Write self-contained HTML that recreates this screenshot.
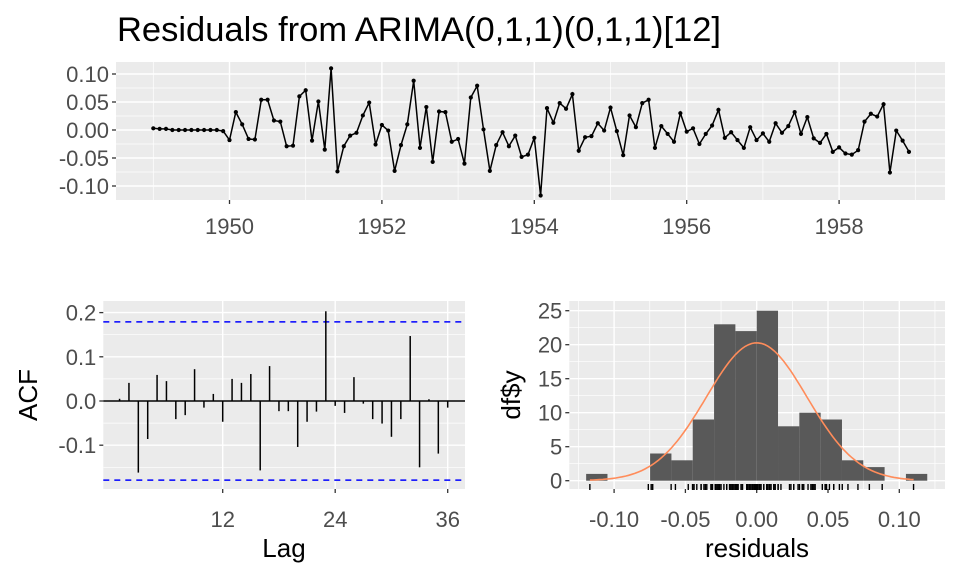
<!DOCTYPE html>
<html><head><meta charset="utf-8"><style>
html,body{margin:0;padding:0;background:#fff;}
svg{display:block;font-family:"Liberation Sans",Arial,sans-serif;}
.tk{fill:#4d4d4d;font-size:22px;}
.at{fill:#000;font-size:26px;}
</style></head><body>
<svg id="svg" width="960" height="576" viewBox="0 0 960 576" xmlns="http://www.w3.org/2000/svg">
<text x="117" y="41" font-size="34.5" fill="#000">Residuals from ARIMA(0,1,1)(0,1,1)[12]</text>
<g id="topPanel"></g>
<g id="acfPanel"></g>
<g id="histPanel"></g>
</svg>
<script>
const residuals = [0.003,0.002,0.002,0.000,0.000,0.000,0.000,0.000,0.000,0.000,0.000,-0.002,
-0.018,0.032,0.010,-0.016,-0.017,0.054,0.054,0.017,0.015,-0.029,-0.028,0.060,
0.071,-0.019,0.051,-0.035,0.110,-0.074,-0.029,-0.010,-0.005,0.026,0.049,-0.026,
0.009,-0.001,-0.073,-0.027,0.010,0.088,-0.032,0.041,-0.057,0.033,0.032,-0.021,
-0.016,-0.060,0.058,0.079,0.001,-0.073,-0.027,-0.004,-0.029,-0.010,-0.048,-0.044,
-0.014,-0.117,0.039,0.013,0.048,0.038,0.064,-0.037,-0.013,-0.011,0.012,-0.001,
0.040,-0.002,-0.045,0.026,0.005,0.048,0.054,-0.032,0.007,-0.007,-0.021,0.030,
-0.003,0.003,-0.025,-0.007,0.008,0.036,-0.014,-0.004,-0.018,-0.032,0.005,-0.018,
-0.006,-0.021,0.012,-0.005,0.007,0.032,-0.007,0.023,-0.015,-0.023,-0.007,-0.039,
-0.031,-0.042,-0.044,-0.036,0.015,0.029,0.024,0.046,-0.076,-0.001,-0.019,-0.039];
const startYear = 1949;
const yearTicks = [1950,1952,1954,1956,1958];
const resTicks = [0.10,0.05,0.00,-0.05,-0.10];
const resTickLabels = ["0.10","0.05","0.00","-0.05","-0.10"];

const acfLags = [1,2,3,4,5,6,7,8,9,10,11,12,13,14,15,16,17,18,19,20,21,22,23,24,25,26,27,28,29,30,31,32,33,34,35,36];
const acfValues = [0.005,0.041,-0.162,-0.086,0.059,0.045,-0.041,-0.032,0.072,-0.015,0.016,-0.047,
0.050,0.041,0.061,-0.157,0.079,-0.023,-0.023,-0.104,-0.047,-0.024,0.203,-0.011,
-0.027,0.054,-0.006,-0.041,-0.051,-0.081,-0.041,0.147,-0.150,0.004,-0.119,-0.015];
const acfCI = [0.179,-0.179];
const lagTicks = [12,24,36];
const acfTicks = [0.2,0.1,0.0,-0.1];
const acfTickLabels = ["0.2","0.1","0.0","-0.1"];

const binStart = -0.1196;
const binWidth = 0.01495;
const binCounts = [1,0,0,4,3,9,23,22,25,8,10,9,3,2,0,1];
const histXTicks = [-0.10,-0.05,0.00,0.05,0.10];
const histXTickLabels = ["-0.10","-0.05","0.00","0.05","0.10"];
const histYTicks = [0,5,10,15,20,25];
const normMean = 0.0;
const normSd = 0.0353;

const NS="http://www.w3.org/2000/svg";
function mk(parent,tag,attrs){const e=document.createElementNS(NS,tag);for(const k in attrs)e.setAttribute(k,attrs[k]);parent.appendChild(e);return e;}
function txt(parent,x,y,s,cls,anchor){const t=mk(parent,'text',{x:x,y:y,'class':cls,'text-anchor':anchor});t.textContent=s;return t;}

// ---------- Top panel ----------
const gTop=document.getElementById('topPanel');
const T={x0:116,x1:945,y0:62,y1:200};
const tx=v=>153.3+(v-startYear)*76.2;
const ty=v=>130-v*560;
let r=mk(gTop,'rect',{x:T.x0,y:T.y0,width:T.x1-T.x0,height:T.y1-T.y0,fill:'#ebebeb'});


for(let i=0;i<resTicks.length-1;i++){const v=(resTicks[i]+resTicks[i+1])/2;mk(gTop,'line',{x1:T.x0,x2:T.x1,y1:ty(v),y2:ty(v),stroke:'#fff','stroke-width':0.7});}
for(let y=startYear;y<=1959;y+=2){mk(gTop,'line',{x1:tx(y),x2:tx(y),y1:T.y0,y2:T.y1,stroke:'#fff','stroke-width':0.7});}
resTicks.forEach((v,i)=>{mk(gTop,'line',{x1:T.x0,x2:T.x1,y1:ty(v),y2:ty(v),stroke:'#fff','stroke-width':1.4});
 mk(gTop,'line',{x1:T.x0-4,x2:T.x0,y1:ty(v),y2:ty(v),stroke:'#333','stroke-width':1.3});
 const t=txt(gTop,T.x0-7,ty(v)+8,resTickLabels[i],'tk','end');
 
 });
yearTicks.forEach(y=>{mk(gTop,'line',{x1:tx(y),x2:tx(y),y1:T.y0,y2:T.y1,stroke:'#fff','stroke-width':1.4});
 mk(gTop,'line',{x1:tx(y),x2:tx(y),y1:T.y1,y2:T.y1+4,stroke:'#333','stroke-width':1.3});
 const t=txt(gTop,tx(y),T.y1+34,String(y),'tk','middle');
 
 });
let pts=residuals.map((v,i)=>tx(startYear+i/12).toFixed(1)+','+ty(v).toFixed(1)).join(' ');
let pl=mk(gTop,'polyline',{points:pts,fill:'none',stroke:'#000','stroke-width':1.5});


residuals.forEach((v,i)=>{const c=mk(gTop,'circle',{cx:tx(startYear+i/12),cy:ty(v),r:2.1,fill:'#000'});
 
 });

// ---------- ACF panel ----------
const gAcf=document.getElementById('acfPanel');
const A={x0:103.3,x1:465,y0:301,y1:489};
const ax=l=>110.2+l*9.375;
const ay=v=>401-v*442;
r=mk(gAcf,'rect',{x:A.x0,y:A.y0,width:A.x1-A.x0,height:A.y1-A.y0,fill:'#ebebeb'});


[0.15,0.05,-0.05,-0.15].forEach(v=>mk(gAcf,'line',{x1:A.x0,x2:A.x1,y1:ay(v),y2:ay(v),stroke:'#fff','stroke-width':0.7}));
acfTicks.forEach((v,i)=>{mk(gAcf,'line',{x1:A.x0,x2:A.x1,y1:ay(v),y2:ay(v),stroke:'#fff','stroke-width':1.4});
 mk(gAcf,'line',{x1:A.x0-4,x2:A.x0,y1:ay(v),y2:ay(v),stroke:'#333','stroke-width':1.3});
 const t=txt(gAcf,A.x0-7,ay(v)+8,acfTickLabels[i],'tk','end');
 
 });
lagTicks.forEach(l=>{mk(gAcf,'line',{x1:ax(l),x2:ax(l),y1:A.y0,y2:A.y1,stroke:'#fff','stroke-width':1.4});
 mk(gAcf,'line',{x1:ax(l),x2:ax(l),y1:A.y1,y2:A.y1+4,stroke:'#333','stroke-width':1.3});
 const t=txt(gAcf,ax(l),A.y1+38,String(l),'tk','middle');
 
 });
mk(gAcf,'line',{x1:A.x0,x2:A.x1,y1:ay(0),y2:ay(0),stroke:'#000','stroke-width':1.5});
acfCI.forEach(v=>{const l=mk(gAcf,'line',{x1:A.x0,x2:A.x1,y1:ay(v),y2:ay(v),stroke:'#0000ff','stroke-width':1.5,'stroke-dasharray':'6,5'});
 
 });
acfLags.forEach((l,i)=>{const b=mk(gAcf,'line',{x1:ax(l),x2:ax(l),y1:ay(0),y2:ay(acfValues[i]),stroke:'#000','stroke-width':1.5});
 
 });
let t1=txt(gAcf,284,557,'Lag','at','middle');


let t2=mk(gAcf,'text',{x:0,y:0,'class':'at','text-anchor':'middle',transform:'translate(37,395) rotate(-90)'});t2.textContent='ACF';



// ---------- Histogram ----------
const gHist=document.getElementById('histPanel');
const H={x0:569.3,x1:945,y0:301,y1:489};
const hx=v=>756.7+v*1426;
const hy=c=>480.7-c*6.8;
r=mk(gHist,'rect',{x:H.x0,y:H.y0,width:H.x1-H.x0,height:H.y1-H.y0,fill:'#ebebeb'});


for(let v=-0.125;v<=0.13;v+=0.05)mk(gHist,'line',{x1:hx(v),x2:hx(v),y1:H.y0,y2:H.y1,stroke:'#fff','stroke-width':0.7});
for(let c=2.5;c<=27.5;c+=5)mk(gHist,'line',{x1:H.x0,x2:H.x1,y1:hy(c),y2:hy(c),stroke:'#fff','stroke-width':0.7});
histYTicks.forEach(c=>{mk(gHist,'line',{x1:H.x0,x2:H.x1,y1:hy(c),y2:hy(c),stroke:'#fff','stroke-width':1.4});
 mk(gHist,'line',{x1:H.x0-4,x2:H.x0,y1:hy(c),y2:hy(c),stroke:'#333','stroke-width':1.3});
 const t=txt(gHist,H.x0-7,hy(c)+8,String(c),'tk','end');
 
 });
histXTicks.forEach((v,i)=>{mk(gHist,'line',{x1:hx(v),x2:hx(v),y1:H.y0,y2:H.y1,stroke:'#fff','stroke-width':1.4});
 mk(gHist,'line',{x1:hx(v),x2:hx(v),y1:H.y1,y2:H.y1+4,stroke:'#333','stroke-width':1.3});
 const t=txt(gHist,hx(v),H.y1+38,histXTickLabels[i],'tk','middle');
 
 });
binCounts.forEach((c,i)=>{if(c<=0)return;const x0=hx(binStart+i*binWidth),x1=hx(binStart+(i+1)*binWidth);
 const b=mk(gHist,'rect',{x:x0,y:hy(c),width:x1-x0,height:hy(0)-hy(c),fill:'#595959'});
 
 });
const mn=Math.min(...residuals),mx=Math.max(...residuals);
const scale=residuals.length*binWidth;
let cp=[];for(let k=0;k<=100;k++){const v=mn+(mx-mn)*k/100;const d=Math.exp(-0.5*((v-normMean)/normSd)**2)/(normSd*Math.sqrt(2*Math.PI));cp.push(hx(v).toFixed(1)+','+hy(d*scale).toFixed(1));}
const curve=mk(gHist,'polyline',{points:cp.join(' '),fill:'none',stroke:'#ff8c5a','stroke-width':1.6});


residuals.forEach(v=>{const l=mk(gHist,'line',{x1:hx(v),x2:hx(v),y1:484,y2:490,stroke:'#000','stroke-width':1.4});
 
 });
let t3=txt(gHist,757,557,'residuals','at','middle');


let t4=mk(gHist,'text',{x:0,y:0,'class':'at','text-anchor':'middle',transform:'translate(520,395) rotate(-90)'});t4.textContent='df$y';


</script>
</body></html>
